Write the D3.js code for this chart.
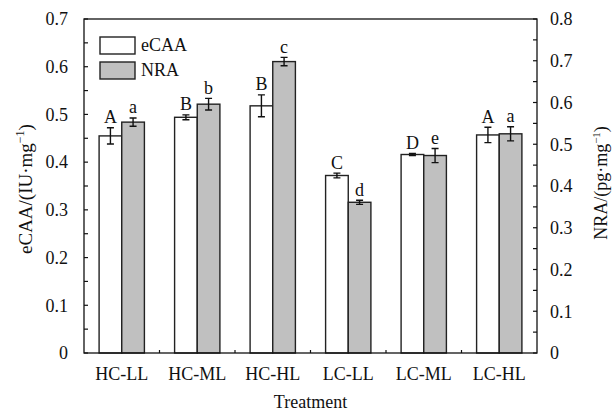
<!DOCTYPE html>
<html>
<head>
<meta charset="utf-8">
<script src="https://cdn.jsdelivr.net/npm/d3@7"></script>
<style>
  body { margin: 0; background: #fff; }
  svg text { font-family: "Liberation Serif", "Times New Roman", serif; fill: #111; }
</style>
</head>
<body>
<div id="chart"></div>
<script>
var categories = ["HC-LL", "HC-ML", "HC-HL", "LC-LL", "LC-ML", "LC-HL"];
var ecaa = [0.455, 0.494, 0.518, 0.372, 0.416, 0.457];
var ecaaErr = [0.017, 0.005, 0.023, 0.005, 0.002, 0.016];
var nra = [0.553, 0.596, 0.698, 0.361, 0.473, 0.525];
var nraErr = [0.010, 0.014, 0.010, 0.005, 0.017, 0.017];
var ecaaLetters = ["A", "B", "B", "C", "D", "A"];
var nraLetters = ["a", "b", "c", "d", "e", "a"];
var leftTicks = [0, 0.1, 0.2, 0.3, 0.4, 0.5, 0.6, 0.7];
var rightTicks = [0, 0.1, 0.2, 0.3, 0.4, 0.5, 0.6, 0.7, 0.8];

var W = 615, H = 412;
var margin = {top: 19, right: 78, bottom: 59, left: 84};
var width = W - margin.left - margin.right;
var height = H - margin.top - margin.bottom;
var fs = 18;

var svg = d3.select("#chart").append("svg")
    .attr("width", W)
    .attr("height", H);

var g = svg.append("g")
    .attr("transform", "translate(" + margin.left + "," + margin.top + ")");

var x = d3.scaleBand()
    .domain(categories)
    .range([0, width])
    .paddingInner(0.4)
    .paddingOuter(0.2);

var xs = d3.scaleBand()
    .domain(["eCAA", "NRA"])
    .range([0, x.bandwidth()]);

var yL = d3.scaleLinear().domain([0, 0.7]).range([height, 0]);
var yR = d3.scaleLinear().domain([0, 0.8]).range([height, 0]);

var colors = {eCAA: "#ffffff", NRA: "#c0c0c0"};

// bars
var groups = g.selectAll(".grp")
    .data(categories)
    .enter().append("g")
    .attr("transform", function(d) { return "translate(" + x(d) + ",0)"; });

function drawSeries(key, vals, errs, letters, y) {
  groups.append("rect")
    .attr("x", xs(key))
    .attr("width", xs.bandwidth())
    .attr("y", function(d, i) { return y(vals[i]); })
    .attr("height", function(d, i) { return height - y(vals[i]); })
    .attr("fill", colors[key])
    .attr("stroke", "#222")
    .attr("stroke-width", 1.4);

  var cx = xs(key) + xs.bandwidth() / 2;
  var cap = 3.5;
  groups.append("path")
    .attr("d", function(d, i) {
      var t = y(vals[i] + errs[i]), b = y(vals[i] - errs[i]);
      return "M" + cx + "," + t + "V" + b +
        "M" + (cx - cap) + "," + t + "H" + (cx + cap) +
        "M" + (cx - cap) + "," + b + "H" + (cx + cap);
    })
    .attr("stroke", "#111")
    .attr("stroke-width", 1.4)
    .attr("fill", "none");

  groups.append("text")
    .attr("x", cx)
    .attr("y", function(d, i) { return y(vals[i] + errs[i]) - 4.5; })
    .attr("text-anchor", "middle")
    .style("font-size", fs + "px")
    .text(function(d, i) { return letters[i]; });
}

drawSeries("eCAA", ecaa, ecaaErr, ecaaLetters, yL);
drawSeries("NRA", nra, nraErr, nraLetters, yR);

// frame
g.append("rect")
  .attr("width", width)
  .attr("height", height)
  .attr("fill", "none")
  .attr("stroke", "#111")
  .attr("stroke-width", 1.3);

// left axis
var leftAx = g.append("g")
  .call(d3.axisLeft(yL).tickValues(leftTicks).tickSize(0).tickPadding(16)
    .tickFormat(function(d) { return d === 0 ? "0" : d3.format(".1f")(d); }));
leftAx.select(".domain").remove();
leftAx.selectAll("text").style("font-size", fs + "px").attr("fill", "#111");

g.append("g").selectAll("line")
  .data(d3.range(0, 0.7001, 0.05))
  .enter().append("line")
  .attr("x1", 0).attr("x2", 4)
  .attr("y1", function(d) { return yL(d); })
  .attr("y2", function(d) { return yL(d); })
  .attr("stroke", "#111").attr("stroke-width", 1.2);

// right axis
var rightAx = g.append("g")
  .attr("transform", "translate(" + width + ",0)")
  .call(d3.axisRight(yR).tickValues(rightTicks).tickSize(0).tickPadding(13)
    .tickFormat(function(d) { return d === 0 ? "0" : d3.format(".1f")(d); }));
rightAx.select(".domain").remove();
rightAx.selectAll("text").style("font-size", fs + "px").attr("fill", "#111");

g.append("g").selectAll("line")
  .data(d3.range(0, 0.8001, 0.05))
  .enter().append("line")
  .attr("x1", width - 4).attr("x2", width)
  .attr("y1", function(d) { return yR(d); })
  .attr("y2", function(d) { return yR(d); })
  .attr("stroke", "#111").attr("stroke-width", 1.2);

// bottom axis
var bottomAx = g.append("g")
  .attr("transform", "translate(0," + height + ")")
  .call(d3.axisBottom(x).tickSize(0).tickPadding(14));
bottomAx.select(".domain").remove();
bottomAx.selectAll("text").style("font-size", fs + "px").attr("fill", "#111");

g.append("g").selectAll("line")
  .data(categories.slice(1))
  .enter().append("line")
  .attr("x1", function(d) { return x(d) - x.step() * x.paddingInner() / 2; })
  .attr("x2", function(d) { return x(d) - x.step() * x.paddingInner() / 2; })
  .attr("y1", height - 3).attr("y2", height)
  .attr("stroke", "#111").attr("stroke-width", 1.2);

// axis titles
g.append("text")
  .attr("x", width / 2)
  .attr("y", height + 55)
  .attr("text-anchor", "middle")
  .style("font-size", fs + "px")
  .text("Treatment");

var tl = svg.append("text")
  .attr("transform", "translate(32,189) rotate(-90)")
  .attr("text-anchor", "middle")
  .style("font-size", "19px");
tl.append("tspan").text("eCAA/(IU·mg");
tl.append("tspan").attr("dy", -8).style("font-size", "12px").text("−1");
tl.append("tspan").attr("dy", 8).text(")");

var tr = svg.append("text")
  .attr("transform", "translate(607,183) rotate(-90)")
  .attr("text-anchor", "middle")
  .style("font-size", "18px");
tr.append("tspan").text("NRA/(pg·mg");
tr.append("tspan").attr("dy", -7).style("font-size", "11px").text("−1");
tr.append("tspan").attr("dy", 7).text(")");

// legend
var legend = g.append("g").attr("transform", "translate(16,18)");
["eCAA", "NRA"].forEach(function(k, i) {
  legend.append("rect")
    .attr("x", 0).attr("y", i * 25)
    .attr("width", 35).attr("height", 17)
    .attr("fill", colors[k])
    .attr("stroke", "#222").attr("stroke-width", 1.4);
  legend.append("text")
    .attr("x", 41).attr("y", i * 25 + 14)
    .style("font-size", fs + "px")
    .text(k);
});
</script>
</body>
</html>
